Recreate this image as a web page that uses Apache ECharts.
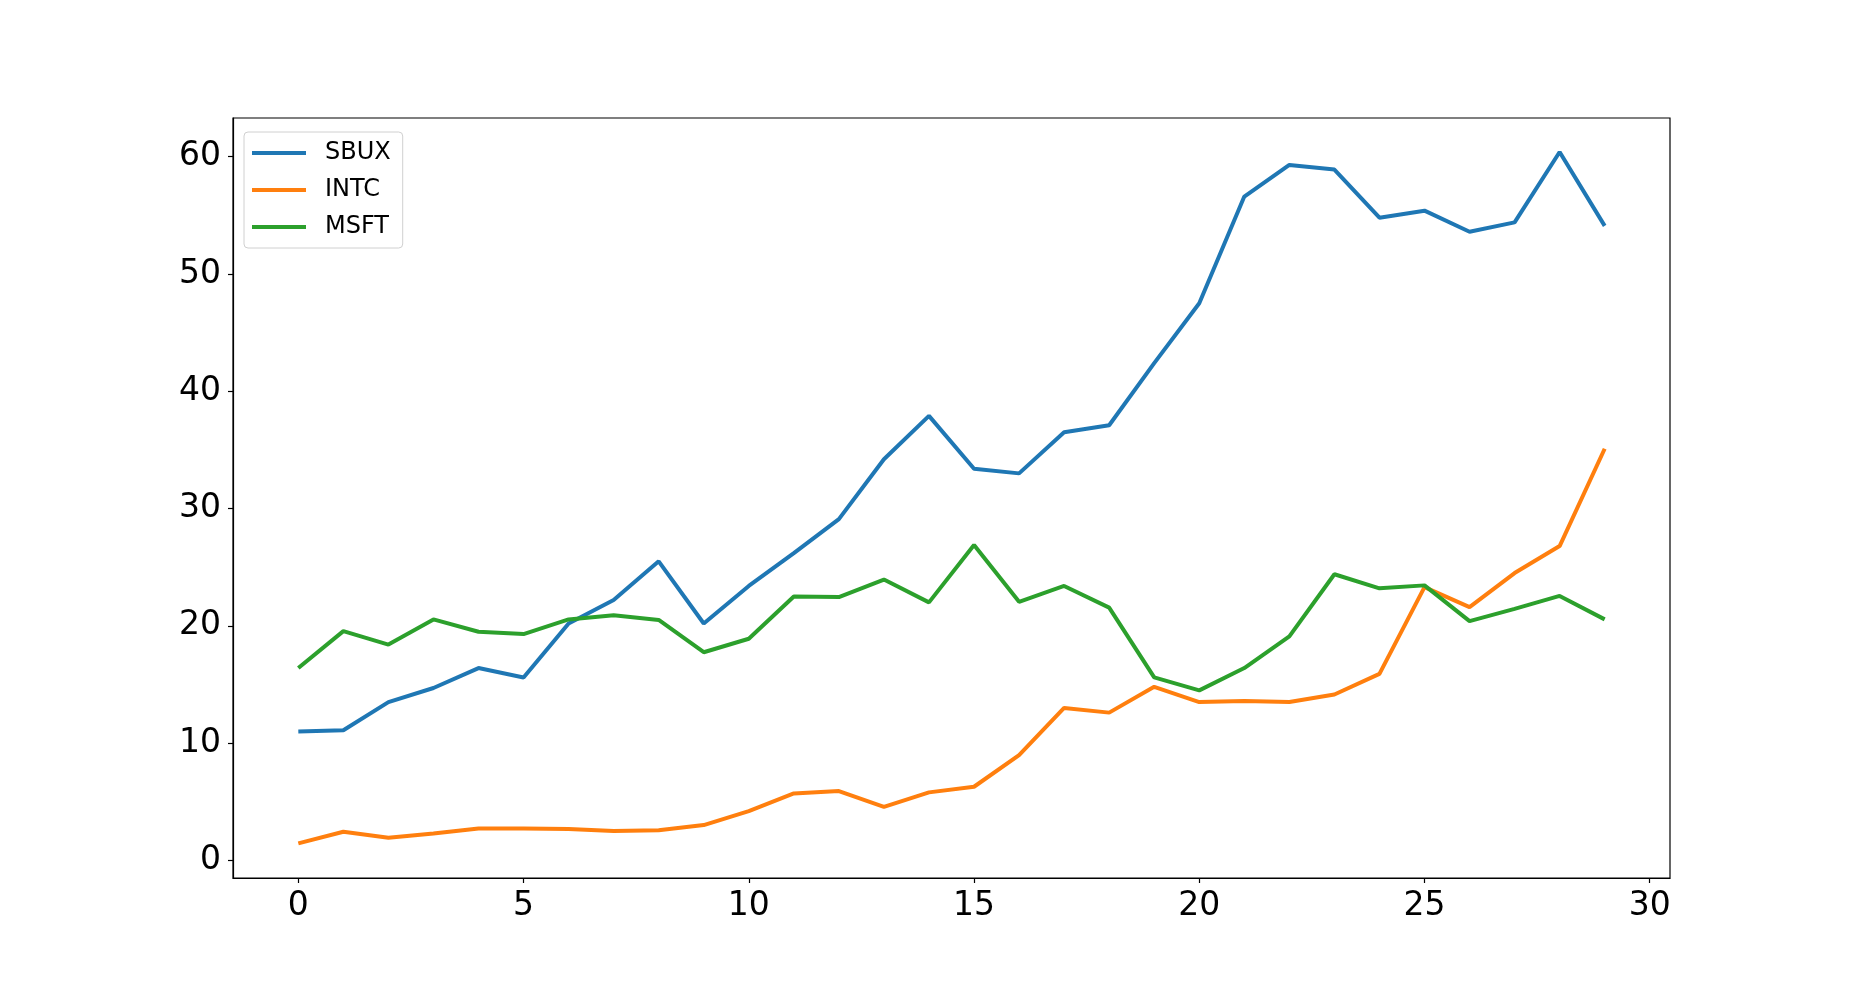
<!DOCTYPE html>
<html>
<head>
<meta charset="utf-8">
<script src="https://cdn.jsdelivr.net/npm/echarts@6/dist/echarts.min.js"></script>
<style>
  html, body { margin: 0; padding: 0; background: #fff; }
  #chart { width: 1855px; height: 986px; }
</style>
</head>
<body>
<div id="chart"></div>
<script>
    // x positions (0..29)
    const xValues = [0, 1, 2, 3, 4, 5, 6, 7, 8, 9, 10, 11, 12, 13, 14, 15, 16, 17, 18, 19, 20, 21, 22, 23, 24, 25, 26, 27, 28, 29]
    const sbux = [11.0, 11.1, 13.5, 14.7, 16.4, 15.6, 20.2, 22.2, 25.5, 20.2, 23.4, 26.2, 29.1, 34.2, 37.9, 33.4, 33.0, 36.5, 37.1, 42.4, 47.5, 56.6, 59.3, 58.9, 54.8, 55.4, 53.6, 54.4, 60.4, 54.1]
    const intc = [1.45, 2.44, 1.93, 2.3, 2.73, 2.73, 2.67, 2.5, 2.58, 3.01, 4.2, 5.71, 5.91, 4.57, 5.8, 6.28, 8.98, 13.0, 12.6, 14.8, 13.5, 13.6, 13.5, 14.15, 15.9, 23.3, 21.6, 24.5, 26.8, 35.1]
    const msft = [16.4, 19.55, 18.4, 20.55, 19.5, 19.3, 20.55, 20.9, 20.5, 17.75, 18.9, 22.5, 22.45, 23.95, 22.0, 26.9, 22.05, 23.4, 21.55, 15.6, 14.5, 16.4, 19.1, 24.4, 23.2, 23.45, 20.4, 21.45, 22.55, 20.55]
    const xTicks = [0, 5, 10, 15, 20, 25, 30]
    const yTicks = [0, 10, 20, 30, 40, 50, 60]

    const names = ['SBUX', 'INTC', 'MSFT']
    const colors = ['#1f77b4', '#ff7f0e', '#2ca02c']

    const pairs = (ys) => xValues.map((x, i) => [x, ys[i]])

    const chart = echarts.init(document.getElementById('chart'))

    const tickFont = {
        fontFamily: 'DejaVu Sans',
        fontSize: 33,
        color: '#000'
    }
    const frame = { color: '#000', width: 1.2 }

    const option = {
        animation: false,
        backgroundColor: '#fff',
        grid: {
            left: 233,
            right: 185,
            top: 118,
            bottom: 108,
            show: true,
            borderColor: '#000',
            borderWidth: 1.2,
            backgroundColor: 'transparent'
        },
        legend: {
            orient: 'vertical',
            left: 244,
            top: 132,
            data: names,
            icon: 'rect',
            itemWidth: 54,
            itemHeight: 4,
            itemGap: 11,
            padding: [8, 12, 8, 8],
            backgroundColor: '#fff',
            borderColor: '#d0d0d0',
            borderWidth: 1,
            borderRadius: 4,
            textStyle: {
                fontFamily: 'DejaVu Sans',
                fontSize: 24,
                lineHeight: 26,
                color: '#000',
                padding: [0, 0, 0, 14]
            }
        },
        xAxis: {
            type: 'value',
            min: -1.45,
            max: 30.45,
            splitLine: { show: false },
            axisLine: { show: true, onZero: false, lineStyle: frame },
            axisTick: {
                show: true,
                length: 5,
                lineStyle: frame,
                customValues: xTicks
            },
            axisLabel: Object.assign({
                margin: 12,
                customValues: xTicks
            }, tickFont)
        },
        yAxis: {
            type: 'value',
            min: -1.5,
            max: 63.3,
            splitLine: { show: false },
            axisLine: { show: true, onZero: false, lineStyle: frame },
            axisTick: {
                show: true,
                length: 5,
                lineStyle: frame,
                customValues: yTicks
            },
            axisLabel: Object.assign({
                margin: 12,
                padding: [8, 0, 0, 0],
                customValues: yTicks
            }, tickFont)
        },
        series: [sbux, intc, msft].map((ys, k) => ({
            name: names[k],
            type: 'line',
            data: pairs(ys),
            showSymbol: false,
            symbol: 'none',
            color: colors[k],
            lineStyle: { width: 4, color: colors[k] }
        }))
    }

    chart.setOption(option)
</script>
</body>
</html>
